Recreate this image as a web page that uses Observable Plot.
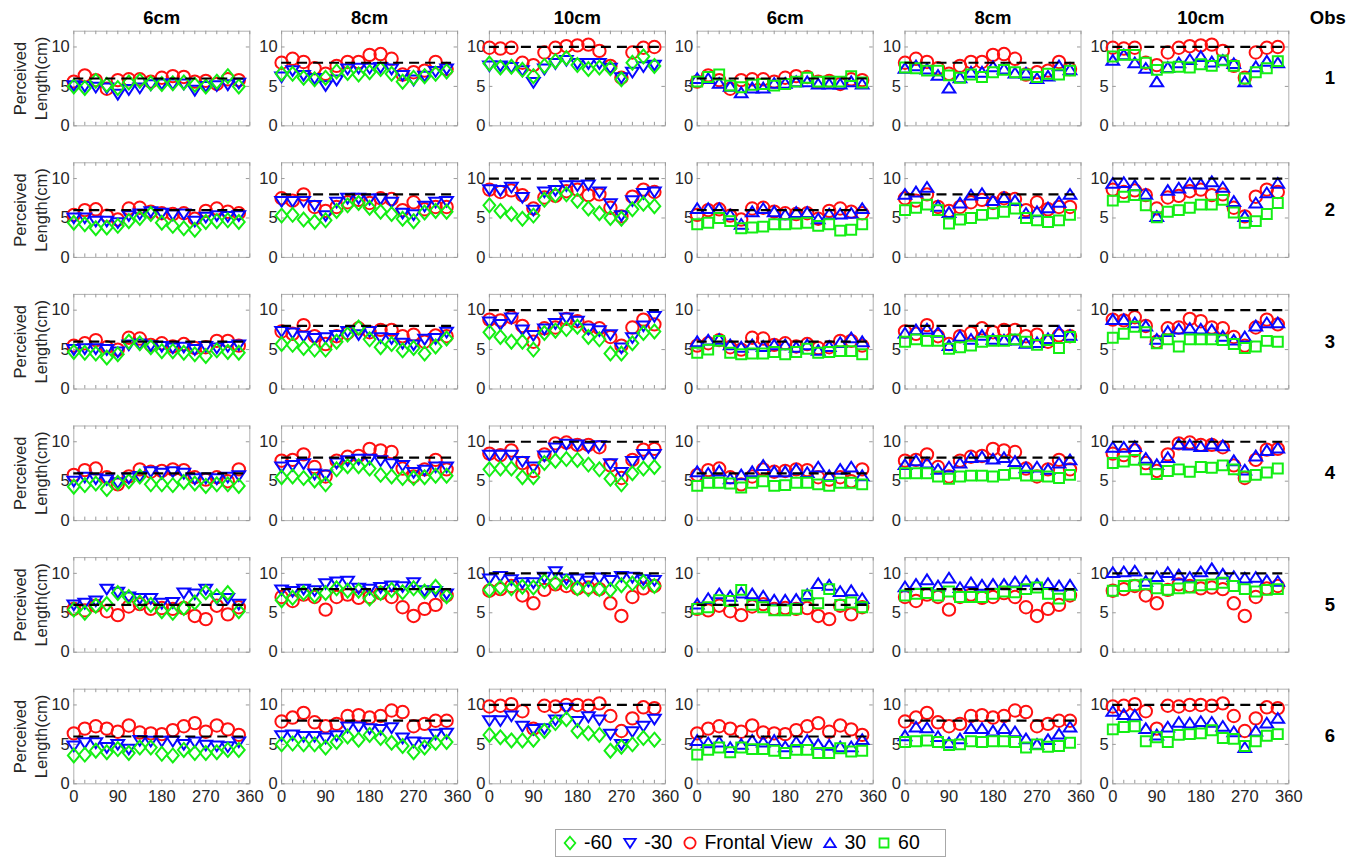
<!DOCTYPE html>
<html><head><meta charset="utf-8">
<script src="https://cdn.jsdelivr.net/npm/d3@7"></script>
<script src="https://cdn.jsdelivr.net/npm/@observablehq/plot@0.6"></script>
<style>
html,body{margin:0;padding:0;background:#fff;}
body{width:1360px;height:859px;overflow:hidden;position:relative;font-family:"Liberation Sans",Arial,Helvetica,sans-serif;}
#legend{position:absolute;left:555px;top:829px;width:383px;height:26px;border:1px solid #a8a8a8;background:#fff;display:flex;align-items:center;padding-left:6px;box-sizing:content-box;}
#legend .item{display:flex;align-items:center;margin-right:10px;}
#legend .item span{font-size:19.5px;color:#000;margin-left:6px;line-height:1;}
#legend svg{display:block;}
</style></head>
<body><div id="chart"></div><div id="legend"></div>
<script>
// ---------- data ----------
const angles = [0, 22.5, 45, 67.5, 90, 112.5, 135, 157.5, 180, 202.5, 225, 247.5, 270, 292.5, 315, 337.5];
const columns = ["6cm", "8cm", "10cm", "6cm", "8cm", "10cm"];
const trueLengths = [6, 8, 10];
const observers = [1, 2, 3, 4, 5, 6];
const xTickLabels = [0, 90, 180, 270, 360];
const xMinorTicks = [0, 22.5, 45, 67.5, 90, 112.5, 135, 157.5, 180, 202.5, 225, 247.5, 270, 292.5, 315, 337.5, 360];
const yTickLabels = [0, 5, 10];
const trueLineSpan = [0, 350];
const legendLabels = ["-60", "-30", "Frontal View", "30", "60"];

// values[observer][length] (6cm, 8cm, 10cm), one value per angle
const frontalView = [
  [[5.6,6.4,5.8,4.7,5.8,5.9,5.9,5.6,6.1,6.3,6.2,5.6,5.7,5.3,5.9,5.8],
   [8.0,8.5,8.1,7.3,6.6,7.6,8.1,8.1,9.0,9.1,8.5,6.5,6.8,7.0,8.1,7.2],
   [9.9,9.8,9.9,8.0,7.7,9.3,9.9,10.1,10.2,10.3,9.5,7.6,6.1,9.3,9.9,10.0]],
  [[5.4,6.0,6.1,5.3,4.8,6.2,6.3,5.8,5.6,5.5,5.6,4.9,5.9,6.2,5.8,5.6],
   [7.5,7.2,8.0,6.4,5.9,6.4,7.0,7.3,6.9,7.5,7.4,6.0,7.0,6.1,6.4,6.4],
   [8.6,8.3,8.5,7.9,6.2,7.6,7.8,8.4,8.6,7.9,8.0,6.3,5.2,7.7,8.6,8.3]],
  [[5.5,5.8,6.2,5.3,5.0,6.5,6.4,5.6,5.8,5.4,5.7,5.2,5.3,6.1,6.1,5.5],
   [7.3,7.0,8.1,6.7,5.7,6.7,7.1,7.7,7.2,7.5,7.5,6.7,6.9,6.0,6.8,6.7],
   [8.8,8.7,9.1,8.0,6.0,7.7,7.8,8.9,8.6,7.8,7.7,6.6,5.5,7.8,8.8,8.2]],
  [[5.8,6.4,6.6,5.5,4.6,5.6,6.5,6.2,6.3,6.5,6.4,5.5,5.2,5.5,5.0,6.5],
   [7.6,7.7,8.4,6.8,5.6,7.6,8.1,8.2,9.1,8.9,8.7,6.6,5.6,6.5,7.7,6.5],
   [8.5,8.3,8.9,7.3,6.3,8.4,9.8,9.9,9.6,9.6,9.3,7.0,5.4,7.7,9.0,9.1]],
  [[5.5,5.3,5.9,5.2,4.7,5.8,6.1,5.5,5.6,5.5,5.6,4.6,4.2,5.9,4.8,5.7],
   [7.0,6.5,7.3,7.0,5.4,7.0,7.3,6.9,7.0,7.5,7.0,5.7,4.6,5.5,6.0,7.2],
   [7.8,8.0,8.4,7.2,6.2,7.9,8.6,8.4,8.1,8.2,8.0,6.2,4.6,7.0,8.1,8.4]],
  [[6.4,7.0,7.3,7.0,6.6,7.4,6.5,6.4,6.3,6.8,7.3,7.7,6.6,7.4,6.9,6.2],
   [7.9,8.4,9.0,7.8,7.3,7.6,8.6,8.7,8.4,8.6,9.3,9.1,7.3,7.6,8.0,8.0],
   [9.8,9.9,10.1,9.2,7.0,9.9,9.8,10.0,10.0,9.9,10.2,8.6,6.7,8.3,9.7,9.6]]
];
const minus60 = [
  [[5.0,4.8,5.7,5.2,4.8,5.5,5.7,5.4,5.3,5.4,5.5,5.2,5.0,5.6,6.3,5.0],
   [6.6,6.6,6.1,5.9,6.1,6.9,6.7,6.5,6.8,7.2,6.6,5.6,6.1,6.3,6.6,6.9],
   [7.9,7.4,7.5,7.1,6.3,7.6,8.2,8.6,7.7,7.2,7.4,7.3,5.9,8.0,8.8,7.6]],
  [[4.4,4.2,3.7,3.8,4.0,4.6,5.0,5.5,4.4,4.0,3.7,3.5,4.5,4.6,4.7,4.5],
   [5.3,5.4,4.8,4.5,4.7,5.9,6.6,6.9,6.3,5.8,5.5,4.9,4.6,5.7,5.9,5.8],
   [6.6,5.9,5.5,4.9,5.3,7.3,7.9,8.0,7.2,6.2,5.6,5.0,4.9,6.1,6.8,6.5]],
  [[4.7,4.6,4.5,4.0,4.4,6.0,5.8,5.3,4.8,4.8,4.6,4.4,4.2,4.9,4.7,4.6],
   [5.7,5.6,5.2,5.0,5.0,6.0,6.9,7.8,6.3,5.3,5.7,4.9,5.2,4.5,5.4,6.4],
   [7.2,6.6,6.0,6.0,5.0,7.1,7.4,7.6,7.9,6.6,6.3,4.5,4.5,5.8,7.1,7.3]],
  [[4.3,4.5,4.7,4.0,4.8,5.0,5.6,4.6,4.6,4.5,4.9,4.7,4.4,4.6,4.6,4.4],
   [5.5,5.6,5.4,5.1,4.6,6.5,6.9,6.9,6.6,5.8,5.6,5.4,5.4,5.5,5.7,5.7],
   [6.5,6.6,6.6,5.5,5.5,7.3,7.6,7.8,7.7,7.1,6.5,5.3,4.6,6.0,6.6,6.8]],
  [[5.4,5.0,5.9,6.1,7.5,7.0,6.3,6.0,5.2,5.0,5.6,6.3,7.6,7.1,7.5,5.2],
   [6.6,6.9,7.5,7.2,7.5,8.1,7.8,7.8,6.8,7.5,7.9,7.6,8.1,7.7,8.3,7.1],
   [7.9,8.2,8.1,8.3,8.2,9.0,8.8,8.9,8.1,8.0,8.0,7.9,8.5,8.7,8.9,8.4]],
  [[3.6,3.7,4.2,4.0,4.4,3.9,4.6,4.6,3.8,3.6,4.3,3.9,3.9,4.0,4.3,4.3],
   [5.0,5.1,5.0,5.0,4.6,5.3,6.0,5.6,6.2,5.8,5.2,4.8,4.0,4.6,5.2,5.3],
   [6.2,5.9,5.5,5.5,5.6,6.7,7.7,8.2,6.7,6.4,6.2,4.2,4.7,5.0,5.8,5.6]]
];
const minus30 = [
  [[5.1,5.0,4.9,4.8,4.0,4.6,4.8,5.2,5.3,5.3,5.3,4.5,5.0,5.1,5.2,5.4],
   [6.2,7.0,6.4,6.0,5.1,5.8,7.2,7.3,7.3,7.4,7.2,6.4,5.8,6.3,6.9,7.2],
   [7.6,7.6,7.4,7.0,5.5,7.2,7.9,8.3,7.9,7.9,7.9,7.3,6.1,6.8,7.5,7.7]],
  [[5.0,5.0,4.6,4.6,4.4,5.3,5.5,5.8,5.6,5.4,5.5,4.6,5.1,5.3,5.2,5.3],
   [7.1,7.1,7.1,6.6,5.3,7.0,7.5,7.5,7.4,7.4,7.0,5.6,5.4,6.5,7.0,7.1],
   [8.6,8.5,8.9,7.6,6.0,8.3,8.5,9.1,9.1,9.2,8.3,6.8,5.3,7.2,8.1,8.3]],
  [[5.0,5.1,5.1,5.0,4.7,5.6,5.7,5.5,5.4,5.2,5.3,5.0,5.4,5.2,5.4,5.6],
   [7.3,7.1,6.7,6.4,6.5,6.8,7.3,6.9,7.3,6.5,6.4,5.8,5.6,6.3,6.4,7.2],
   [8.5,8.2,9.0,7.5,6.8,7.6,8.3,9.0,8.6,7.6,7.4,6.9,5.2,6.5,8.0,9.2]],
  [[5.0,5.5,5.3,5.2,4.8,5.4,5.6,6.2,6.0,6.2,6.0,5.3,5.4,5.3,5.5,5.7],
   [6.8,7.0,7.2,5.9,5.8,7.3,7.6,7.8,7.8,7.6,7.2,7.0,6.1,6.4,6.8,6.8],
   [8.3,8.3,8.3,7.5,6.8,8.2,9.2,9.7,9.6,9.3,9.5,7.2,6.1,7.5,8.4,8.4]],
  [[6.0,6.2,6.5,8.0,7.6,7.0,6.8,6.8,6.2,6.3,7.5,7.4,8.0,6.8,6.8,6.1],
   [7.9,7.7,8.0,7.8,8.7,8.9,9.0,8.1,8.0,8.2,8.4,8.3,8.8,7.8,7.7,7.4],
   [9.3,9.6,9.2,8.8,8.8,9.5,10.2,9.3,9.3,9.0,9.4,9.1,9.6,9.5,9.2,9.1]],
  [[4.8,5.2,5.2,4.6,5.0,4.4,5.5,5.4,5.4,5.4,5.0,5.3,4.9,4.8,4.7,5.3],
   [6.1,6.2,6.0,6.0,5.8,6.1,7.2,7.2,7.0,6.9,7.1,5.8,5.3,5.2,6.3,6.4],
   [8.0,8.0,8.6,7.3,6.9,7.0,8.1,9.6,7.9,8.5,8.1,6.3,5.0,6.6,7.3,8.2]]
];
const plus30 = [
  [[6.0,6.0,5.4,5.0,4.2,4.8,4.8,5.4,5.4,5.6,5.6,5.3,5.3,5.3,5.6,5.3],
   [7.3,7.6,7.2,6.4,4.8,6.1,6.8,6.8,7.5,7.2,6.7,6.7,6.0,6.3,7.6,7.1],
   [8.3,9.0,8.0,7.3,5.6,7.4,8.0,8.4,8.8,8.1,8.3,7.9,5.6,7.5,8.2,8.0]],
  [[6.2,6.2,6.2,5.4,4.2,5.8,6.2,5.8,5.4,5.7,5.7,4.9,5.5,5.5,5.6,6.2],
   [8.0,8.3,8.9,6.5,5.7,6.9,7.9,8.1,7.2,7.6,7.2,5.6,5.8,6.3,7.0,8.0],
   [9.4,9.5,9.1,8.0,5.2,8.5,8.8,9.4,9.3,9.6,8.9,7.1,5.2,6.9,8.2,9.4]],
  [[6.0,6.2,6.3,5.6,5.3,5.6,5.4,5.6,5.6,5.3,5.6,4.9,5.4,5.9,6.5,6.0],
   [7.1,7.5,7.6,7.2,5.5,6.7,6.3,6.8,6.3,6.2,6.2,5.8,5.9,6.4,7.3,6.8],
   [8.8,8.8,8.4,8.0,6.3,7.3,7.6,7.7,7.6,7.5,6.7,6.2,6.6,8.0,8.4,8.4]],
  [[6.2,6.0,6.3,5.3,5.8,6.2,7.0,6.2,6.2,6.5,6.1,6.8,5.7,6.5,6.8,5.7],
   [7.1,7.6,7.3,6.5,6.8,7.3,8.0,8.1,7.8,8.0,7.5,6.7,6.8,6.5,7.3,7.7],
   [9.3,9.3,9.4,7.9,7.1,8.0,9.7,9.6,9.4,9.7,9.5,7.6,6.4,8.2,8.9,9.2]],
  [[6.1,6.8,7.4,7.1,7.5,7.4,7.1,6.6,6.6,6.7,7.3,8.7,8.5,7.7,7.8,6.8],
   [8.3,8.6,9.2,8.4,9.4,8.2,8.8,8.5,8.6,8.6,8.9,9.0,8.6,8.7,8.4,8.5],
   [10.1,10.2,10.3,9.0,9.6,10.1,9.8,9.5,10.2,10.6,9.9,9.6,9.4,9.5,9.1,9.0]],
  [[5.5,5.2,5.3,4.6,5.0,5.5,5.3,5.5,4.7,5.3,5.5,5.0,4.9,4.7,4.7,5.6],
   [6.1,7.2,7.1,6.0,5.2,5.7,7.0,7.0,6.7,7.0,6.6,5.7,5.0,5.6,6.3,7.2],
   [9.2,8.8,8.7,7.0,6.2,7.2,7.8,7.7,7.9,7.8,7.3,6.6,4.6,6.7,7.7,8.3]]
];
const plus60 = [
  [[5.6,6.2,6.5,5.1,4.9,5.2,5.3,5.1,5.3,5.6,6.1,5.6,5.6,5.6,6.3,5.5],
   [7.4,7.3,7.0,7.0,6.4,6.1,6.5,6.2,6.8,7.1,6.8,6.5,6.2,6.6,6.5,7.0],
   [8.8,9.0,9.0,8.0,7.1,7.4,7.5,7.4,7.8,7.6,8.3,7.6,6.0,6.8,7.3,8.2]],
  [[4.2,4.4,5.0,4.6,3.7,3.8,3.9,4.2,4.2,4.3,4.4,4.0,4.2,3.4,3.5,4.2],
   [6.0,6.3,6.7,6.0,4.3,4.8,5.0,5.4,5.6,5.8,6.2,5.0,4.7,4.5,4.7,5.4],
   [7.2,7.7,7.9,6.6,5.1,5.8,6.0,6.3,6.7,6.7,7.3,5.7,4.4,4.6,5.5,6.9]],
  [[4.6,5.0,6.1,4.6,4.4,4.5,4.5,4.7,4.4,4.7,5.1,4.6,4.7,4.8,4.8,4.4],
   [6.0,6.3,6.1,6.1,5.1,5.3,5.5,6.0,6.1,6.1,6.3,6.0,5.6,6.2,5.2,6.6],
   [6.5,7.0,7.9,7.2,5.8,6.3,5.4,6.3,6.3,6.3,6.2,5.7,5.2,5.4,6.1,6.0]],
  [[4.4,4.8,4.8,4.7,4.2,4.8,5.0,4.4,4.5,4.8,4.8,4.6,4.4,4.8,4.8,4.6],
   [6.0,6.0,6.0,5.6,5.3,5.6,5.7,5.7,5.6,5.8,6.0,5.7,5.7,5.6,5.4,5.8],
   [7.3,7.5,7.7,6.5,5.9,6.3,6.5,6.2,6.8,6.7,7.0,6.5,5.6,5.8,6.1,6.6]],
  [[5.5,5.7,6.6,6.5,7.9,6.0,5.7,5.3,5.3,5.5,7.2,6.2,8.0,6.0,6.3,5.7],
   [7.2,7.4,7.5,7.2,7.7,7.0,7.0,7.0,7.4,7.7,7.6,8.0,8.2,7.4,6.8,7.3],
   [7.8,8.4,8.5,8.6,8.1,7.9,8.1,8.2,8.5,8.6,8.8,8.4,8.0,7.7,7.9,8.0]],
  [[3.7,4.3,4.6,4.0,4.6,4.4,4.4,4.2,3.9,4.3,4.3,3.9,3.9,4.5,4.1,4.2],
   [5.3,5.4,5.5,5.3,4.9,5.0,5.4,5.3,5.4,5.4,5.3,4.6,5.0,4.7,4.8,5.2],
   [6.9,7.2,7.3,5.4,5.9,5.3,6.2,6.3,6.4,6.8,5.8,5.7,4.8,5.4,6.1,6.3]]
];

// ---------- symbols ----------
const rad = size => Math.sqrt(size / Math.PI);
const diamondSym = {draw(c, s){const r = rad(s); c.moveTo(0, -r*1.12); c.lineTo(r*0.95, 0); c.lineTo(0, r*1.12); c.lineTo(-r*0.95, 0); c.closePath();}};
const triDownSym = {draw(c, s){const r = rad(s); c.moveTo(-r*1.02, -r*0.72); c.lineTo(r*1.02, -r*0.72); c.lineTo(0, r*0.85); c.closePath();}};
const triUpSym = {draw(c, s){const r = rad(s); c.moveTo(-r*1.02, r*0.72); c.lineTo(r*1.02, r*0.72); c.lineTo(0, -r*0.85); c.closePath();}};
const squareSym = {draw(c, s){const r = rad(s); const h = r*0.8; c.rect(-h, -h, 2*h, 2*h);}};
const circleSym = {draw(c, s){const r = rad(s); c.moveTo(r, 0); c.arc(0, 0, r, 0, 2*Math.PI);}};

const RED = "#ff1010", BLUE = "#0808ff", GREEN = "#14ee14";

// series: drawn red, then blue, then green
const seriesDefs = [
  {values: frontalView, side: "both", color: RED, symbol: circleSym},
  {values: minus30, side: "left", color: BLUE, symbol: triDownSym},
  {values: plus30, side: "right", color: BLUE, symbol: triUpSym},
  {values: minus60, side: "left", color: GREEN, symbol: diamondSym},
  {values: plus60, side: "right", color: GREEN, symbol: squareSym}
];

function recordsFor(def) {
  const out = [];
  def.values.forEach((byLen, oi) => byLen.forEach((vals, li) => {
    const cols = def.side === "both" ? [li, li + 3] : def.side === "left" ? [li] : [li + 3];
    cols.forEach(col => vals.forEach((v, ai) => out.push({obs: observers[oi], col, angle: angles[ai], value: v})));
  }));
  return out;
}

const dashRows = [];
observers.forEach(o => columns.forEach((c, ci) => dashRows.push({obs: o, col: ci, len: trueLengths[ci % 3]})));

// ---------- layout ----------
const W = 1360, H = 822, mL = 73.3, mR = 71.7, mT = 30.7, mB = 38.7;
const pX = 0.153, pY = 0.281;
const panelW = (W - mL - mR) / (6 - pX) * (1 - pX);
const panelH = (H - mT - mB) / (6 - pY) * (1 - pY);
const TICK = 3.5, AXIS = "#9a9a9a", LABEL = "#262626";
const MARK_R = 6.2, MARK_W = 2;

const marks = [
  Plot.frame({stroke: "#b0b0b0", strokeWidth: 1}),
  Plot.ruleX(xMinorTicks, {x: d => d, insetBottom: panelH - TICK, stroke: AXIS}),
  Plot.ruleX(xMinorTicks, {x: d => d, insetTop: panelH - TICK, stroke: AXIS}),
  Plot.ruleY(yTickLabels, {y: d => d, insetRight: panelW - TICK, stroke: AXIS}),
  Plot.ruleY(yTickLabels, {y: d => d, insetLeft: panelW - TICK, stroke: AXIS}),
  Plot.text(yTickLabels, {y: d => d, text: d => String(d), frameAnchor: "left", textAnchor: "end", dx: -4, fontSize: 16.5, fill: LABEL}),
  ...seriesDefs.map(def => Plot.dot(recordsFor(def), {
    x: "angle", y: "value", fx: "col", fy: "obs",
    symbol: def.symbol, r: MARK_R, stroke: def.color, strokeWidth: MARK_W, fill: "none"
  })),
  Plot.ruleY(dashRows, {y: "len", fx: "col", fy: "obs", x1: () => trueLineSpan[0], x2: () => trueLineSpan[1],
    stroke: "#000", strokeWidth: 2.2, strokeDasharray: "10,6"}),
  Plot.text(columns, {fx: (d, i) => i, fy: () => observers[0], text: d => d, frameAnchor: "top", dy: -13, lineAnchor: "middle",
    fontWeight: "bold", fontSize: 18.5, fill: "#000"}),
  Plot.text(observers, {fx: () => 5, fy: d => d, text: d => String(d), frameAnchor: "right", dx: 41, textAnchor: "middle",
    fontWeight: "bold", fontSize: 18.5, fill: "#000"}),
  Plot.text(["Obs"], {fx: () => 5, fy: () => observers[0], text: d => d, frameAnchor: "top-right", dx: 39, dy: -13, lineAnchor: "middle",
    textAnchor: "middle", fontWeight: "bold", fontSize: 18.5, fill: "#000"}),
  Plot.text(observers, {fx: () => 0, fy: d => d, text: () => "Perceived\nLength(cm)", frameAnchor: "left", dx: -44, rotate: -90,
    textAnchor: "middle", lineAnchor: "middle", lineHeight: 1.3, fontSize: 16.5, fill: LABEL})
];

const chart = Plot.plot({
  width: W, height: H,
  marginLeft: mL, marginRight: mR, marginTop: mT, marginBottom: mB,
  style: {fontFamily: '"Liberation Sans", Arial, Helvetica, sans-serif', fontSize: "16.5px", color: LABEL, background: "#fff"},
  fx: {domain: [0, 1, 2, 3, 4, 5], paddingInner: pX, paddingOuter: 0, round: false, axis: null, label: null},
  fy: {domain: observers, paddingInner: pY, paddingOuter: 0, round: false, axis: null, label: null},
  x: {domain: [0, 360], ticks: xTickLabels, tickSize: 0, tickPadding: 6, label: null, tickFormat: d => String(d)},
  y: {domain: [0, 12], axis: null},
  marks
});
document.getElementById("chart").appendChild(chart);

// ---------- legend ----------
const legendItems = [
  {label: legendLabels[0], color: GREEN, symbol: diamondSym},
  {label: legendLabels[1], color: BLUE, symbol: triDownSym},
  {label: legendLabels[2], color: RED, symbol: circleSym},
  {label: legendLabels[3], color: BLUE, symbol: triUpSym},
  {label: legendLabels[4], color: GREEN, symbol: squareSym}
];
const legend = document.getElementById("legend");
legendItems.forEach(it => {
  const item = document.createElement("div");
  item.className = "item";
  const p = d3.path();
  it.symbol.draw(p, Math.PI * 5.6 * 5.6);
  item.innerHTML = `<svg width="16" height="16" viewBox="-8 -8 16 16"><path d="${p.toString()}" fill="none" stroke="${it.color}" stroke-width="1.8"/></svg><span>${it.label}</span>`;
  legend.appendChild(item);
});
</script>
</body></html>
